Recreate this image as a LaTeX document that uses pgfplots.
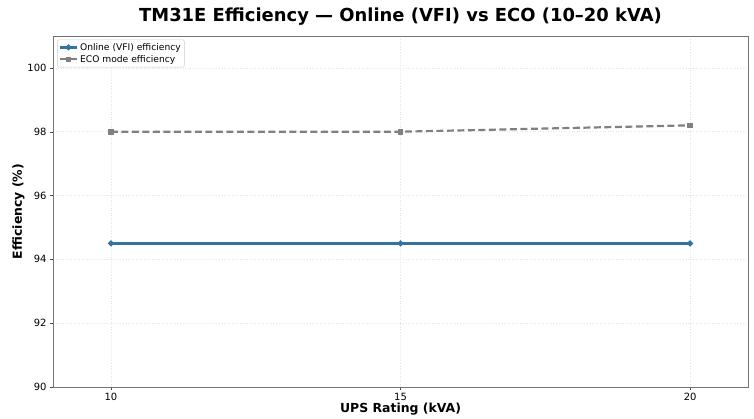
\documentclass[border=0pt]{standalone}
\usepackage{fontspec}
\setmainfont{DejaVu Sans}
\usepackage{pgfplots}
\pgfplotsset{compat=1.18}
\definecolor{onl}{HTML}{3274A1}
\definecolor{eco}{HTML}{808080}
\begin{document}
\begin{tikzpicture}[x=1bp,y=1bp]
\begin{axis}[
  name=ax,
  scale only axis,
  width=695bp, height=351bp,
  xmin=9, xmax=21, ymin=90, ymax=101,
  xtick={10,15,20}, ytick={90,92,94,96,98,100},
  /pgf/number format/assume math mode=true,
  tick label style={font=\fontsize{10}{12}\selectfont},
  xlabel={\bfseries UPS Rating (kVA)},
  ylabel={\bfseries Efficiency (\%)},
  label style={font=\fontsize{12.5}{14}\selectfont},
  xlabel style={yshift=5bp},
  ylabel style={yshift=-4bp},
  title={\bfseries TM31E Efficiency — Online (VFI) vs ECO (10–20 kVA)},
  title style={font=\fontsize{18}{20}\selectfont, yshift=1bp},
  grid=major,
  major grid style={black!11, line width=0.6bp, dotted},
  axis line style={black!55, line width=0.9bp},
  tick style={black!70},
  major tick length=3bp,
  tick align=outside,
  xtick pos=bottom, ytick pos=left,
  legend style={font=\fontsize{9.2}{10.5}\selectfont, draw=black!20, rounded corners=1.5bp, inner sep=1.5bp, row sep=-0.5bp, at={(0.006,0.99)}, anchor=north west},
  legend cell align=left,
]
\addplot[onl, line width=2.2bp, mark=*, mark size=1.7bp] coordinates {(10,94.5) (15,94.5) (20,94.5)};
\addlegendentry{Online (VFI) efficiency}
\addplot[eco, line width=2.2bp, dash pattern=on 7bp off 3.5bp, mark=square*, mark size=1.7bp, mark options={solid}] coordinates {(10,98.0) (15,98.0) (20,98.2)};
\addlegendentry{ECO mode efficiency}
\end{axis}
\pgfresetboundingbox
\path[use as bounding box] ([xshift=-53bp,yshift=-32bp]ax.south west) rectangle ([xshift=6bp,yshift=36bp]ax.north east);
\end{tikzpicture}
\end{document}
